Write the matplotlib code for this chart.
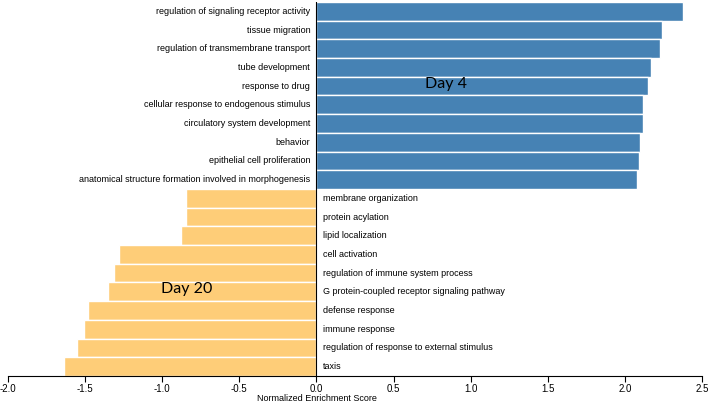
import matplotlib
matplotlib.use("Agg")
import matplotlib.pyplot as plt
import numpy as np

# Day 4 terms (positive NES), top to bottom
day4_terms = [
    "regulation of signaling receptor activity",
    "tissue migration",
    "regulation of transmembrane transport",
    "tube development",
    "response to drug",
    "cellular response to endogenous stimulus",
    "circulatory system development",
    "behavior",
    "epithelial cell proliferation",
    "anatomical structure formation involved in morphogenesis",
]
day4_nes = [2.38, 2.24, 2.23, 2.17, 2.15, 2.12, 2.12, 2.10, 2.09, 2.08]

# Day 20 terms (negative NES), top to bottom
day20_terms = [
    "membrane organization",
    "protein acylation",
    "lipid localization",
    "cell activation",
    "regulation of immune system process",
    "G protein-coupled receptor signaling pathway",
    "defense response",
    "immune response",
    "regulation of response to external stimulus",
    "taxis",
]
day20_nes = [-0.845, -0.846, -0.877, -1.28, -1.31, -1.35, -1.48, -1.51, -1.55, -1.64]

x_ticks = [-2.0, -1.5, -1.0, -0.5, 0.0, 0.5, 1.0, 1.5, 2.0, 2.5]

BLUE = "#4682B4"
ORANGE = "#FECD78"
plt.rcParams["font.family"] = ["Liberation Sans", "DejaVu Sans"]

fig = plt.figure(figsize=(7.09, 4.03), dpi=100)
ax = fig.add_axes([8 / 709, 1 - 376 / 403, (702 - 8) / 709, (376 - 2) / 403])

terms = day4_terms + day20_terms
values = day4_nes + day20_nes
colors = [BLUE] * len(day4_nes) + [ORANGE] * len(day20_nes)
ypos = np.arange(len(terms))

ax.barh(ypos, values, height=1.0, color=colors, edgecolor="white", linewidth=1.0)

for y, term, v in zip(ypos, terms, values):
    if v > 0:
        ax.annotate(term, (0, y), xytext=(-4.5, 0), textcoords="offset points",
                    ha="right", va="center", fontsize=6.5)
    else:
        ax.annotate(term, (0, y), xytext=(5, 0), textcoords="offset points",
                    ha="left", va="center", fontsize=6.5)

ax.axvline(0, color="black", linewidth=0.8)

ax.set_xlim(-2.0, 2.5)
ax.set_ylim(len(terms) - 0.5, -0.5)
ax.set_yticks([])
ax.set_xticks(x_ticks)
ax.set_xticklabels([f"{t:.1f}" for t in x_ticks], fontsize=7)
ax.tick_params(axis="x", length=4, width=0.8, pad=1.5)
for side in ["left", "right", "top"]:
    ax.spines[side].set_visible(False)
ax.spines["bottom"].set_linewidth(0.8)

ax.set_xlabel("Normalized Enrichment Score", fontsize=6.5)
ax.xaxis.set_label_coords(2.0 / 4.5, -0.048)

ax.text(0.84, 3.9, "Day 4", fontsize=11.5, family=["Lato", "DejaVu Sans"],
        ha="center", va="center")
ax.text(-0.84, 14.85, "Day 20", fontsize=11.5, family=["Lato", "DejaVu Sans"],
        ha="center", va="center")

fig.savefig("out.png", dpi=100)
